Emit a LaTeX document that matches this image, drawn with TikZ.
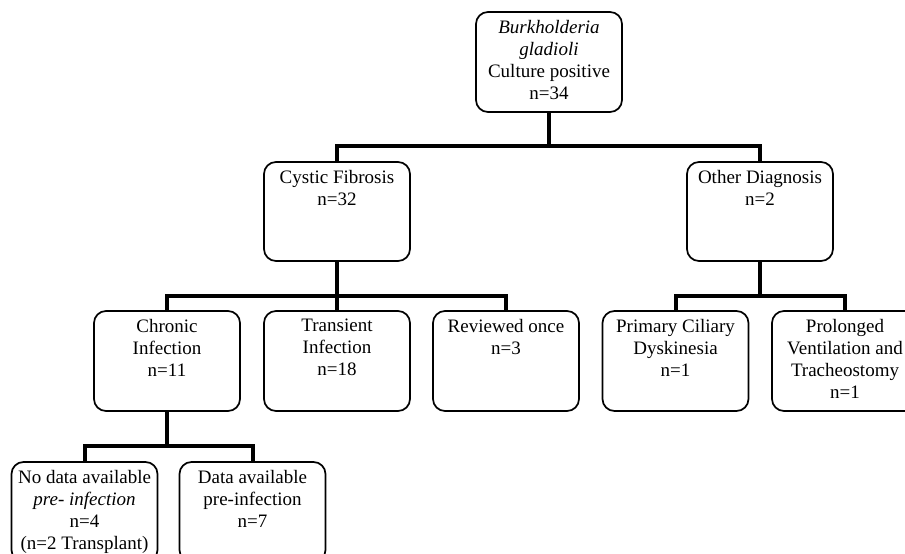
\documentclass[tikz,border=0pt]{standalone}
\usepackage{fontspec}
\setmainfont{Liberation Serif}
\begin{document}
\begin{tikzpicture}[x=1pt,y=-1pt,
  box/.style={draw, line width=1.7pt, rounded corners=12pt, minimum width=146pt, minimum height=100pt, inner sep=0pt},
  txt/.style={anchor=north, inner sep=0pt, align=center, font=\fontsize{19}{22}\selectfont, yshift=-8.5pt, execute at begin node={\rule{0pt}{14pt}}},
  conn/.style={line width=4pt, line join=miter}]
\useasboundingbox (0,0) rectangle (905,554);
\clip (0,0) rectangle (905,554);
\fill[white] (0,0) rectangle (905,554);
% boxes
\node[box] (top) at (549,62) {};
\node[txt] (top-t) at (top.north) {\textit{Burkholderia}\\\textit{gladioli}\\Culture positive\\n=34};
\node[box, minimum height=99pt] (cf) at (337,211.5) {};
\node[txt] (cf-t) at (cf.north) {Cystic Fibrosis\\n=32};
\node[box, minimum height=99pt] (od) at (760,211.5) {};
\node[txt] (od-t) at (od.north) {Other Diagnosis\\n=2};
\node[box] (ch) at (167,361) {};
\node[txt] (ch-t) at (ch.north) {Chronic\\Infection\\n=11};
\node[box] (tr) at (337,361) {};
\node[txt] (tr-t) at (tr.north) {Transient\\Infection\\n=18};
\node[box] (rv) at (506,361) {};
\node[txt] (rv-t) at (rv.north) {Reviewed once\\n=3};
\node[box] (pc) at (675.5,361) {};
\node[txt] (pc-t) at (pc.north) {Primary Ciliary\\Dyskinesia\\n=1};
\node[box] (pv) at (845,361) {};
\node[txt] (pv-t) at (pv.north) {Prolonged\\Ventilation and\\Tracheostomy\\n=1};
\node[box] (nd) at (84.5,512) {};
\node[txt] (nd-t) at (nd.north) {No data available\\\textit{pre- infection}\\n=4\\(n=2 Transplant)};
\node[box] (da) at (252.5,512) {};
\node[txt] (da-t) at (da.north) {Data available\\pre-infection\\n=7};
% junctions
\coordinate (j1) at (548,146);
\coordinate (j2) at (337,296);
\coordinate (j3) at (167,446);
\coordinate (j4) at (760,296);
% connectors
\draw[conn] (top.south) -- (top.south |- j1);
\draw[conn] (cf.north) |- (j1) -| (od.north);
\draw[conn] (cf.south) -- (j2);
\draw[conn] (ch.north) |- (j2) -| (rv.north);
\draw[conn] (j2) -- (tr.north);
\draw[conn] (od.south) -- (j4);
\draw[conn] (pc.north) |- (j4) -| (pv.north);
\draw[conn] (ch.south) -- (j3);
\draw[conn] (nd.north) |- (j3) -| (da.north);
\end{tikzpicture}
\end{document}
